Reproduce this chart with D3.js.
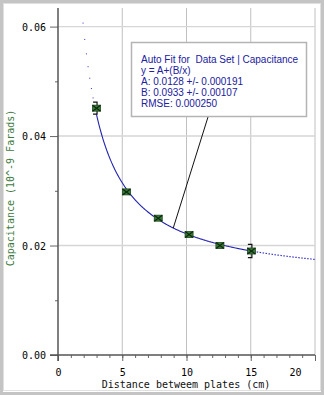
<!DOCTYPE html>
<html><head><meta charset="utf-8">
<script src="https://cdn.jsdelivr.net/npm/d3@7"></script>
<style>
html,body{margin:0;padding:0;background:#fff;}
svg{display:block;}
</style></head>
<body>
<svg id="c" width="324" height="395"></svg>
<script>
// ---- data ----
const distance    = [3.0, 5.33, 7.8, 10.2, 12.6, 15.05];
const capacitance = [0.0451, 0.0298, 0.0250, 0.0220, 0.0200, 0.0190];
const capErr      = [0.0011, 0.0003, 0.0002, 0.0002, 0.0002, 0.0012];
const fitA = 0.0128, fitB = 0.0933;
const xTicks = [0, 5, 10, 15, 20];
const yTicks = [0.00, 0.02, 0.04, 0.06];
const fitLines = ["Auto Fit for  Data Set | Capacitance", "y = A+(B/x)", "A: 0.0128 +/- 0.000191", "B: 0.0933 +/- 0.00107", "RMSE: 0.000250"];
const xLabel = "Distance betweem plates (cm)";
const yLabel = "Capacitance (10^-9 Farads)";

const svg = d3.select("#c");
const x = d3.scaleLinear([0, 20], [58, 315]);
const y = d3.scaleLinear([0, 0.0634], [355, 8]);
const mono = "'DejaVu Sans Mono', monospace";

// outer frame
svg.append("rect").attr("x", 1.5).attr("y", 1.5).attr("width", 321).attr("height", 392)
  .attr("fill", "none").attr("stroke", "#c4c4c4").attr("stroke-width", 3);
svg.append("rect").attr("x", 3.5).attr("y", 3.5).attr("width", 317).attr("height", 387)
  .attr("fill", "none").attr("stroke", "#e0e0e0").attr("stroke-width", 1);

// gridlines
svg.append("g").selectAll("line").data(xTicks.slice(1)).join("line")
  .attr("x1", d => x(d)).attr("x2", d => x(d)).attr("y1", y.range()[1]).attr("y2", y(0))
  .attr("stroke", "#c0c0c0").attr("stroke-width", 1);
svg.append("g").selectAll("line").data(yTicks.slice(1)).join("line")
  .attr("x1", x(0)).attr("x2", x(20)).attr("y1", d => y(d)).attr("y2", d => y(d))
  .attr("stroke", "#d6d6d6").attr("stroke-width", 1.4);

// axes
function styleAxis(g){
  g.select(".domain").remove();
  g.selectAll(".tick line").attr("stroke", "#666");
  g.selectAll("text").attr("font-family", mono).attr("font-size", 10).attr("fill", "#000");
}
const yMinor = svg.append("g").attr("transform", `translate(${x(0)},0)`)
  .call(d3.axisLeft(y).tickValues([0.01, 0.03, 0.05]).tickSize(3).tickFormat(""));
styleAxis(yMinor);
const yMajor = svg.append("g").attr("transform", `translate(${x(0)},0)`)
  .call(d3.axisLeft(y).tickValues(yTicks).tickSize(8).tickPadding(4).tickFormat(d3.format(".2f")));
styleAxis(yMajor);
yMajor.selectAll("text").attr("dy", "0.35em");

const xMinor = svg.append("g").attr("transform", `translate(0,${y(0)})`)
  .call(d3.axisBottom(x).tickValues(d3.range(1, 21)).tickSize(3).tickFormat(""));
styleAxis(xMinor);
const xMajor = svg.append("g").attr("transform", `translate(0,${y(0)})`)
  .call(d3.axisBottom(x).tickValues(xTicks).tickSize(6).tickPadding(8).tickFormat(d3.format("d")));
styleAxis(xMajor);
xMajor.selectAll(".tick").filter(d => d === 20).select("text").attr("dx", -20);

// axis lines
svg.append("line").attr("x1", x(0)).attr("x2", x(0)).attr("y1", y.range()[1]).attr("y2", y(0) + 6)
  .attr("stroke", "#555").attr("stroke-width", 1.5);
svg.append("line").attr("x1", x(0) - 8).attr("x2", x(20)).attr("y1", y(0)).attr("y2", y(0))
  .attr("stroke", "#555").attr("stroke-width", 1.5);

// axis titles
svg.append("text").attr("x", x(10) - 0.5).attr("y", 388).attr("text-anchor", "middle")
  .attr("font-family", mono).attr("font-size", 10).attr("fill", "#111").text(xLabel);
svg.append("text").attr("transform", "translate(14,188) rotate(-90)").attr("text-anchor", "middle")
  .attr("font-family", mono).attr("font-size", 10).attr("fill", "#3d7a3d").text(yLabel);

// fit curve
const fit = v => fitA + fitB / v;
const line = d3.line().x(d => x(d)).y(d => y(fit(d)));
svg.append("path").attr("d", line(d3.range(3, 15.001, 0.05)))
  .attr("fill", "none").attr("stroke", "#2424b0").attr("stroke-width", 1.1);
svg.append("path").attr("d", line(d3.range(15, 20.001, 0.05)))
  .attr("fill", "none").attr("stroke", "#3838c8").attr("stroke-width", 1.2).attr("stroke-dasharray", "1.5,1.5");
svg.append("g").selectAll("rect").data(d3.range(1.95, 3, 0.13)).join("rect")
  .attr("x", d => x(d) - 0.5).attr("y", d => y(fit(d)) - 0.5).attr("width", 1).attr("height", 1)
  .attr("fill", "#3030c0");

// leader line
const lx = 8.97;
svg.append("line").attr("x1", 208).attr("y1", 117).attr("x2", x(lx)).attr("y2", y(fit(lx)))
  .attr("stroke", "#111").attr("stroke-width", 1);

// error bars
const pts = distance.map((d, i) => ({x: d, y: capacitance[i], e: capErr[i]}));
const eb = svg.append("g").attr("stroke", "#111").attr("stroke-width", 1.2).attr("fill", "none");
eb.selectAll("path").data(pts).join("path")
  .attr("d", d => {
    const cx = x(d.x) + 0.5, t = y(d.y + d.e), b = y(d.y - d.e);
    return `M${cx - 4},${t}H${cx}V${b}H${cx - 4}`;
  });

// markers
const mk = svg.append("g").selectAll("g").data(pts).join("g")
  .attr("transform", d => `translate(${x(d.x)},${y(d.y)})`);
mk.append("rect").attr("x", -4).attr("y", -3).attr("width", 8).attr("height", 6)
  .attr("fill", "#3a7a3a").attr("stroke", "#1f4a1f").attr("stroke-width", 0.8);
mk.append("path").attr("d", "M-4,-3L4,3M-4,3L4,-3").attr("stroke", "#0e2a0e").attr("stroke-width", 1.2);

// annotation box
svg.append("rect").attr("x", 131.5).attr("y", 42.5).attr("width", 175).attr("height", 74)
  .attr("fill", "#fff").attr("stroke", "#b4b4b4").attr("stroke-width", 1.5);
svg.append("g").selectAll("text").data(fitLines).join("text")
  .attr("x", 141).attr("y", (d, i) => 63 + i * 11)
  .attr("font-family", "'Liberation Sans', Arial, sans-serif").attr("font-size", 10)
  .attr("fill", "#2020a0").attr("xml:space", "preserve").style("white-space", "pre").text(d => d);
</script>
</body></html>
